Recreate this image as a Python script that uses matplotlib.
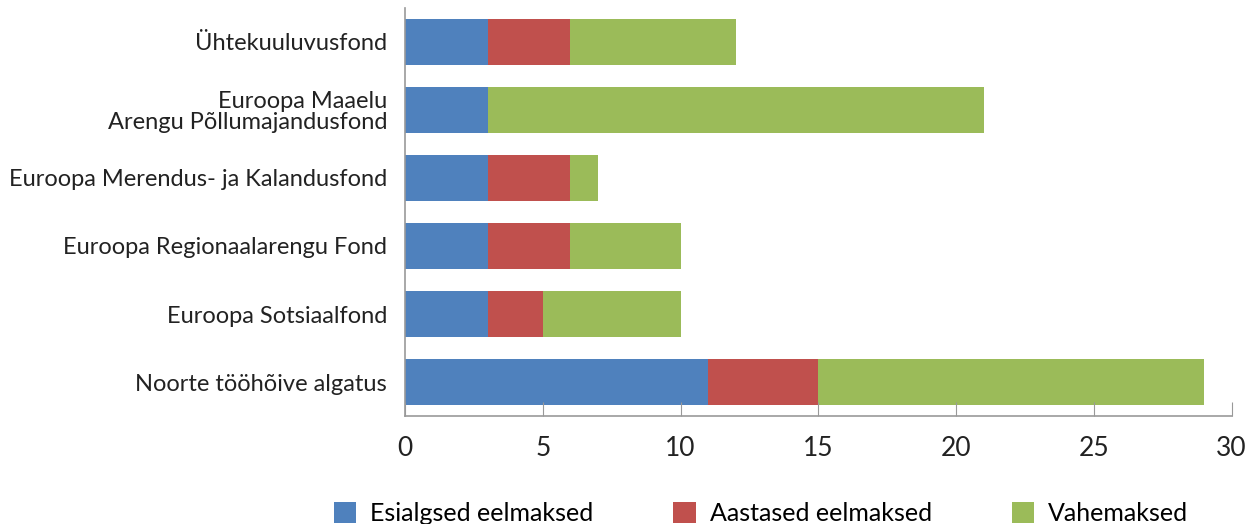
import numpy as np
import matplotlib
matplotlib.use('Agg')
import matplotlib.pyplot as plt

plt.rcParams['font.family'] = ['Lato', 'DejaVu Sans']

# categories from top to bottom
categories = ['Ühtekuuluvusfond',
              'Euroopa Maaelu\nArengu Põllumajandusfond',
              'Euroopa Merendus- ja Kalandusfond',
              'Euroopa Regionaalarengu Fond',
              'Euroopa Sotsiaalfond',
              'Noorte tööhõive algatus']
esialgsed = [3, 3, 3, 3, 3, 11]
aastased = [3, 0, 3, 3, 2, 4]
vahemaksed = [6, 18, 1, 4, 5, 14]
series_names = ['Esialgsed eelmaksed', 'Aastased eelmaksed', 'Vahemaksed']
colors = ['#4F81BD', '#C0504D', '#9BBB59']
xticks = [0, 5, 10, 15, 20, 25, 30]

fig = plt.figure(figsize=(12.58, 5.24), dpi=100)
ax = fig.add_axes([0.322, 0.206, 0.657, 0.779])

y = np.arange(len(categories))
left = np.zeros(len(categories))
for vals, name, c in zip([esialgsed, aastased, vahemaksed], series_names, colors):
    ax.barh(y, vals, left=left, height=0.67, color=c, label=name)
    left = left + np.array(vals)

ax.set_ylim(len(categories) - 0.5, -0.5)
ax.set_xlim(0, 30)
ax.set_xticks(xticks)
ax.set_yticks(y)
ax.set_yticklabels(categories, fontsize=17, color='#222222', linespacing=1.0)
ax.tick_params(axis='y', length=0, pad=13)
ax.tick_params(axis='x', direction='in', length=10, color='#999999', labelsize=19, pad=14,
               labelcolor='#222222')
for s in ['top', 'right']:
    ax.spines[s].set_visible(False)
for s in ['left', 'bottom']:
    ax.spines[s].set_color('#999999')
    ax.spines[s].set_linewidth(1.2)

fig.legend(loc='lower center', bbox_to_anchor=(0.605, -0.045), ncol=3, frameon=False,
           fontsize=18, handlelength=0.9, handleheight=0.9, handletextpad=0.55,
           columnspacing=3.2)

fig.savefig('out.png', dpi=100)
